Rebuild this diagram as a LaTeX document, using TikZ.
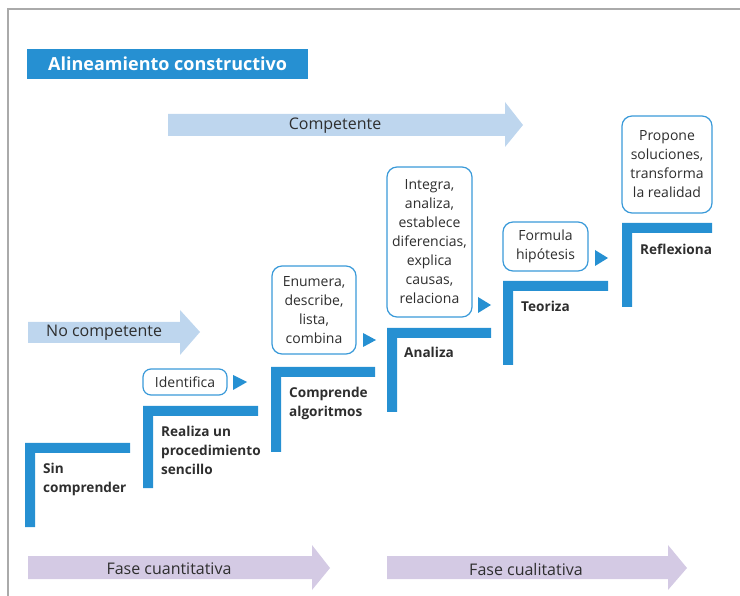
\documentclass[tikz,border=0pt]{standalone}
\usepackage{fontspec}
\setmainfont{Open Sans}
\definecolor{stepblue}{HTML}{2690D2}
\definecolor{boxblue}{HTML}{3A9AD9}
\definecolor{lightblue}{HTML}{BED6EE}
\definecolor{lavender}{HTML}{D4CAE4}
\definecolor{txt}{HTML}{2E2E2E}
\definecolor{framegray}{HTML}{AAAAAA}
\newcommand\stepL[4]{% x, ytop, xright, ybottom
  \fill[stepblue] (#1,#4) -- (#1,#2) -- (#3,#2) -- (#3,#2+10) -- (#1+10,#2+10) -- (#1+10,#4) -- cycle;}
\tikzset{
  every node/.style={text=txt},
  steplabel/.style={anchor=north west, align=left, inner sep=0pt, font=\fontsize{13.6}{19}\selectfont\bfseries},
  actbox/.style={draw=boxblue, line width=1.2pt, fill=white, rounded corners=10pt, align=center, inner sep=0pt, font=\fontsize{14}{19}\selectfont},
  arrowtext/.style={inner sep=0pt, font=\fontsize{16}{19}\selectfont},
}
\begin{document}
\begin{tikzpicture}[x=1pt,y=-1pt]
\useasboundingbox (0,0) rectangle (740,596);
% frame
\draw[framegray, line width=1.5pt] (8,596) -- (8,9) -- (740,9);
% title
\node[fill=stepblue, minimum width=281pt, minimum height=30pt, inner sep=0pt, anchor=north west, text=white, font=\fontsize{18}{22}\selectfont\bfseries] (title) at (27,49) {Alineamiento constructivo};
% big arrows
\fill[lightblue] (168,114) -- (505,114) -- (505,102) -- (523,125) -- (505,147) -- (505,136) -- (168,136) -- cycle;
\node[arrowtext] (comp) at (335,126) {Competente};
\fill[lightblue] (28,322) -- (180,322) -- (180,310) -- (200,332) -- (180,355) -- (180,343) -- (28,343) -- cycle;
\node[arrowtext, anchor=west] (nocomp) at (46,333) {No competente};
\fill[lavender] (28,556) -- (312,556) -- (312,545) -- (330,568) -- (312,590) -- (312,579) -- (28,579) -- cycle;
\node[arrowtext] (fcuant) at (169,569) {Fase cuantitativa};
\fill[lavender] (387,556) -- (668,556) -- (668,545) -- (687,568) -- (668,590) -- (668,579) -- (387,579) -- cycle;
\node[arrowtext] (fcual) at (526,569) {Fase cualitativa};
% steps
\stepL{25}{443}{130}{527}
\stepL{143}{406}{258}{488}
\stepL{271}{367}{375}{452}
\stepL{387}{328}{491}{412}
\stepL{503}{281}{608}{365}
\stepL{622}{223}{712}{307}
\node[steplabel] (s1) at (43,463) {Sin\\comprender};
\node[steplabel] (s2) at (161,426) {Realiza un\\procedimiento\\sencillo};
\node[steplabel] (s3) at (289,387) {Comprende\\algoritmos};
\node[steplabel] (s4) at (404,347) {Analiza};
\node[steplabel] (s5) at (521,301) {Teoriza};
\node[steplabel] (s6) at (640,244) {Reflexiona};
% activity boxes
\node[actbox, rounded corners=8pt, minimum width=84pt, minimum height=26pt] (b1) at (185,382) {Identifica};
\node[actbox, minimum width=84pt, minimum height=88pt] (b2) at (314,310) {Enumera,\\describe,\\lista,\\combina};
\node[actbox, minimum width=85pt, minimum height=150pt] (b3) at (429.5,242) {Integra,\\analiza,\\establece\\diferencias,\\explica\\causas,\\relaciona};
\node[actbox, minimum width=85pt, minimum height=49pt] (b4) at (545.5,246.5) {Formula\\hipótesis};
\node[actbox, minimum width=90pt, minimum height=97pt] (b5) at (667,164.5) {Propone\\soluciones,\\transforma\\la realidad};
% small triangles
\fill[stepblue] (233,375) -- (247,382) -- (233,390) -- cycle;
\fill[stepblue] (363,333) -- (376,340) -- (363,347) -- cycle;
\fill[stepblue] (478,297) -- (491,305) -- (478,313) -- cycle;
\fill[stepblue] (595,250) -- (608,258) -- (595,266) -- cycle;
\end{tikzpicture}
\end{document}
